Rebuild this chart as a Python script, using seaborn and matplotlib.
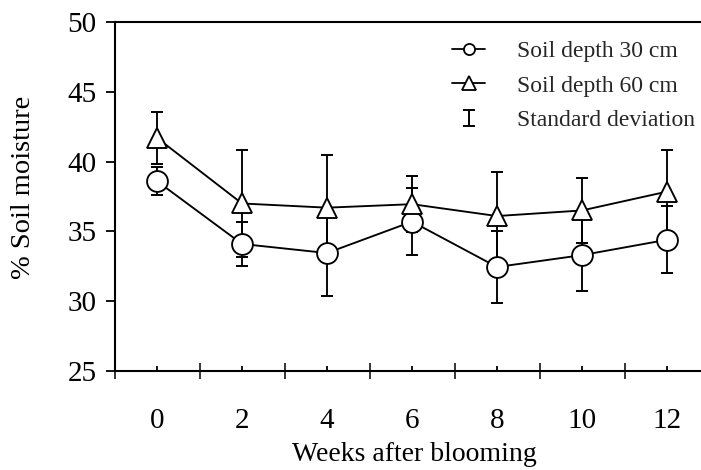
import numpy as np
import pandas as pd
import seaborn as sns
import matplotlib
matplotlib.use("Agg")
import matplotlib.pyplot as plt
from matplotlib.lines import Line2D
from matplotlib.path import Path

# Soil moisture (%) after blooming, two sampling depths, with standard deviations
weeks = [0, 2, 4, 6, 8, 10, 12]
moisture_30 = [38.6, 34.1, 33.45, 35.7, 32.45, 33.3, 34.4]
sd_30 = [1.0, 1.55, 3.05, 2.4, 2.55, 2.6, 2.4]
moisture_60 = [41.7, 37.0, 36.7, 36.95, 36.1, 36.5, 37.85]
sd_60 = [1.85, 3.8, 3.8, 2.0, 3.15, 2.3, 2.95]
series_labels = ["Soil depth 30 cm", "Soil depth 60 cm"]
sd_label = "Standard deviation"
y_ticks = [25, 30, 35, 40, 45, 50]

sns.set_theme(style="white")
plt.rcParams["font.family"] = ["Liberation Serif", "DejaVu Serif"]

df = pd.DataFrame({
    "week": weeks * 2,
    "moisture": moisture_30 + moisture_60,
    "sd": sd_30 + sd_60,
    "depth": [series_labels[0]] * len(weeks) + [series_labels[1]] * len(weeks),
})

fig = plt.figure(figsize=(7.01, 4.70), dpi=100)
ax = fig.add_axes([114.5 / 701, 1 - 371 / 470, 1 - 114.5 / 701, (371 - 22) / 470])

# error bars sit underneath the lines and the white-filled markers
for label in series_labels:
    sub = df[df["depth"] == label]
    ax.errorbar(sub["week"], sub["moisture"], yerr=sub["sd"], fmt="none",
                ecolor="black", elinewidth=1.35, capsize=4, capthick=1.4,
                zorder=1)

sns.lineplot(data=df, x="week", y="moisture", style="depth",
             markers={series_labels[0]: "o", series_labels[1]: "^"},
             dashes=False, color="black", linewidth=1.35, markersize=15,
             markerfacecolor="white", markeredgecolor="black",
             markeredgewidth=1.35, legend=False, ax=ax, zorder=2)

ax.set_xlim(-1, 12.8)
ax.set_ylim(25, 50)

# labelled short inward ticks at the sampling weeks, crossing ticks between them
ax.set_xticks(weeks)
ax.set_xticklabels([str(w) for w in weeks])
ax.set_xticks(np.arange(-1, 12, 2), minor=True)
ax.tick_params(axis="x", which="major", direction="in", length=3.8,
               width=1.3, pad=27, labelsize=21, colors="black", bottom=True)
ax.tick_params(axis="x", which="minor", direction="inout", length=12,
               width=1.3, bottom=True)
ax.set_yticks(y_ticks)
ax.tick_params(axis="y", which="major", direction="out", length=6.5,
               width=1.3, pad=6.5, labelsize=21, colors="black", left=True)

for side in ["left", "bottom", "top"]:
    ax.spines[side].set_visible(True)
    ax.spines[side].set_color("black")
    ax.spines[side].set_linewidth(1.5)
ax.spines["right"].set_visible(False)

ax.set_xlabel("Weeks after blooming", fontsize=20, color="black")
ax.set_ylabel("% Soil moisture", fontsize=20.5, color="black")
ax.xaxis.set_label_coords(0.511, -0.203)
ax.yaxis.set_label_coords(-0.134, 0.527)

# legend symbol for the standard deviation bar
ibar = Path([(-0.8, 1), (0.8, 1), (0, 1), (0, -1), (-0.8, -1), (0.8, -1)],
            [Path.MOVETO, Path.LINETO, Path.MOVETO, Path.LINETO,
             Path.MOVETO, Path.LINETO])
handles = [
    Line2D([], [], color="black", lw=1.3, marker="o", markersize=8,
           markerfacecolor="white", markeredgewidth=1.3),
    Line2D([], [], color="black", lw=1.3, marker="^", markersize=10.5,
           markerfacecolor="white", markeredgewidth=1.3),
    Line2D([], [], color="black", lw=0, marker=ibar, markersize=11,
           markeredgewidth=1.4),
]
ax.legend(handles, series_labels + [sd_label], loc="upper left",
          bbox_to_anchor=((452 - 114.5) / 586.5, 0.947), frameon=False,
          fontsize=17, handlelength=1.4, handletextpad=1.36,
          borderpad=0, borderaxespad=0, labelspacing=0.55)

fig.savefig("out.png", dpi=100, facecolor="white")
